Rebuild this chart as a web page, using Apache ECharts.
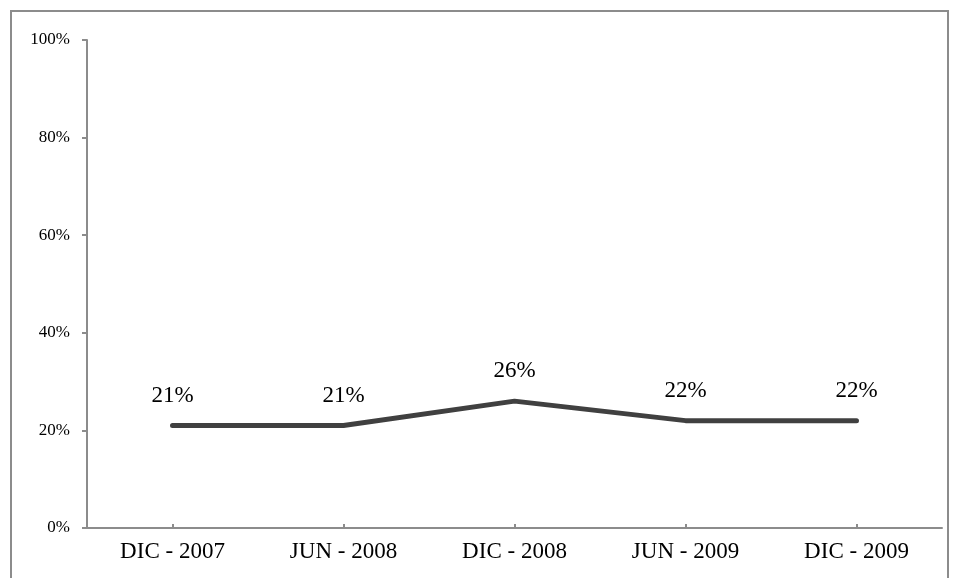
<!DOCTYPE html>
<html>
<head>
<meta charset="utf-8">
<script src="https://cdn.jsdelivr.net/npm/echarts@6/dist/echarts.min.js"></script>
<style>
	html, body { margin: 0; padding: 0; background: #fff; }
	#chart { width: 957px; height: 578px; }
</style>
</head>
<body>
<div id="chart"></div>
<script>
	// periods and share values (%)
	var categories = ['DIC - 2007', 'JUN - 2008', 'DIC - 2008', 'JUN - 2009', 'DIC - 2009'];
	var values = [21, 21, 26, 22, 22];
	var yTicks = [0, 20, 40, 60, 80, 100];

	var serif = '"Liberation Serif", "Times New Roman", serif';

	var option = {
		animation: false,
		backgroundColor: '#fff',
		graphic: [{
			type: 'rect',
			shape: { x: 11, y: 11, width: 937, height: 620 },
			style: { fill: 'none', stroke: '#8c8c8c', lineWidth: 2 },
			silent: true
		}],
		grid: { left: 87, right: 15, top: 40, bottom: 50 },
		xAxis: {
			type: 'category',
			data: categories,
			axisLine: { lineStyle: { color: '#8c8c8c', width: 2 } },
			axisTick: { show: true, inside: true, alignWithLabel: true, length: 4, lineStyle: { color: '#8c8c8c', width: 2 } },
			axisLabel: { color: '#000', fontFamily: serif, fontSize: 23, margin: 12 }
		},
		yAxis: {
			type: 'value',
			min: yTicks[0],
			max: yTicks[yTicks.length - 1],
			interval: 20,
			axisLine: { show: true, lineStyle: { color: '#8c8c8c', width: 2 } },
			axisTick: { show: true, length: 5, lineStyle: { color: '#8c8c8c', width: 2 } },
			splitLine: { show: false },
			axisLabel: { color: '#000', fontFamily: serif, fontSize: 17, margin: 17, formatter: '{value}%' }
		},
		series: [{
			type: 'line',
			data: values,
			symbol: 'circle',
			symbolSize: 1,
			showSymbol: true,
			itemStyle: { color: '#404040' },
			lineStyle: { color: '#404040', width: 5, cap: 'round' },
			label: {
				show: true,
				position: 'top',
				distance: 18,
				color: '#000',
				fontFamily: serif,
				fontSize: 23,
				formatter: '{c}%'
			}
		}]
	};

	echarts.init(document.getElementById('chart')).setOption(option);
</script>
</body>
</html>
